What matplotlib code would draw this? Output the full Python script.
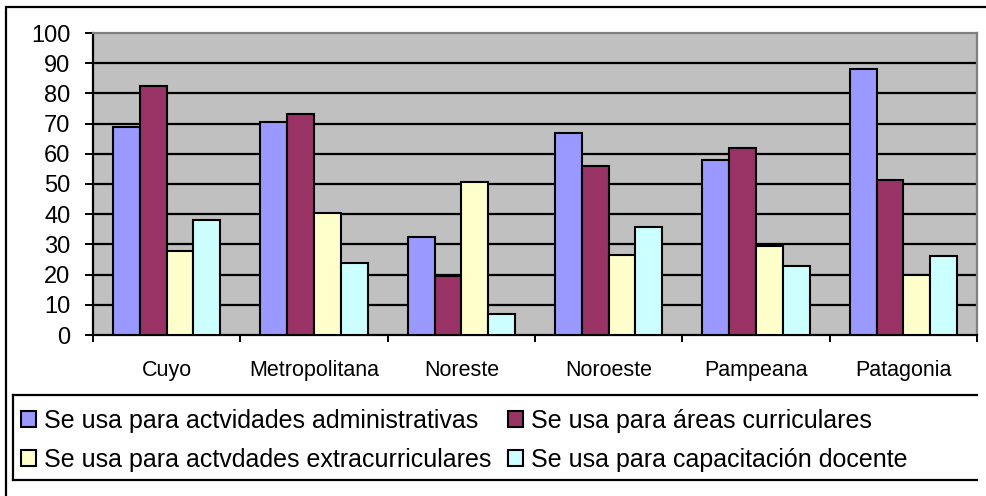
import matplotlib
matplotlib.use('Agg')
import matplotlib.pyplot as plt
from matplotlib.patches import Rectangle
from matplotlib.lines import Line2D
import numpy as np

plt.rcParams['font.family'] = ['Liberation Sans', 'DejaVu Sans']

# Data (percentages per region)
regions = ['Cuyo', 'Metropolitana', 'Noreste', 'Noroeste', 'Pampeana', 'Patagonia']
administrativas = [68.8, 70.5, 32.4, 66.8, 57.9, 88.1]
curriculares = [82.4, 73.3, 19.7, 55.9, 61.9, 51.3]
extracurriculares = [27.8, 40.4, 50.6, 26.4, 29.4, 19.8]
capacitacion = [38.0, 23.9, 7.0, 35.6, 22.7, 26.0]

labels = ['Se usa para actvidades administrativas',
          'Se usa para áreas curriculares',
          'Se usa para actvdades extracurriculares',
          'Se usa para capacitación docente']
colors = ['#9999FF', '#993366', '#FFFFCC', '#CCFFFF']
yticks = list(range(0, 101, 10))

W, H = 987, 496


def fx(x):
    return x / W


def fy(y):
    return 1 - y / H


fig = plt.figure(figsize=(W / 100, H / 100), dpi=100)
ax = fig.add_axes([fx(93), fy(335), fx(977 - 93), (335 - 33) / H])
ax.set_facecolor('#C0C0C0')

series = [administrativas, curriculares, extracurriculares, capacitacion]
x = np.arange(len(regions))
w = 1 / 5.5
handles = []
for i, (vals, c, lab) in enumerate(zip(series, colors, labels)):
    b = ax.bar(x + (i - 1.5) * w, vals, w, color=c, edgecolor='black',
               linewidth=1.5, zorder=3, label=lab)
    handles.append(b)

# horizontal gridlines
for v in yticks[1:-1]:
    ax.axhline(v, color='black', linewidth=1.6, zorder=1)

ax.set_xlim(-0.5, len(regions) - 0.5)
ax.set_ylim(0, 100)

ax.set_yticks(yticks)
ax.tick_params(axis='y', direction='out', length=5.8, width=1.4,
               pad=10.5, labelsize=17, colors='black')

ax.set_xticks(np.arange(-0.5, len(regions), 1))
ax.set_xticklabels([])
ax.set_xticks(x, minor=True)
ax.set_xticklabels(regions, minor=True)
ax.tick_params(axis='x', which='major', direction='out', length=5, width=1.4)
ax.tick_params(axis='x', which='minor', length=0, pad=18, labelsize=15.5)

for s in ['left', 'bottom']:
    ax.spines[s].set_color('black')
    ax.spines[s].set_linewidth(1.6)
for s in ['top', 'right']:
    ax.spines[s].set_color('#808080')
    ax.spines[s].set_linewidth(1.6)

# outer chart frame (right and bottom edges fall outside the picture)
fig.patches.append(Rectangle((fx(6), fy(500)), fx(990 - 6), (500 - 7) / H,
                             transform=fig.transFigure, fill=False,
                             edgecolor='black', linewidth=1.6))

# legend frame
lx0, lx1, ly0, ly1 = 13, 977, 395, 480
for xs, ys in [((lx0, lx1), (ly0, ly0)), ((lx0, lx1), (ly1, ly1)),
               ((lx0, lx0), (ly0, ly1))]:
    fig.lines.append(Line2D([fx(xs[0]), fx(xs[1])], [fy(ys[0]), fy(ys[1])],
                            transform=fig.transFigure, color='black',
                            linewidth=1.6))

# legend fills column-wise, so order entries to read row-wise as in the original
order = [0, 2, 1, 3]
fig.legend(handles=[handles[i] for i in order], labels=[labels[i] for i in order],
           ncol=2, loc='upper left',
           bbox_to_anchor=(fx(21), fy(409)), frameon=False, fontsize=18,
           borderpad=0, borderaxespad=0, handlelength=0.6, handleheight=0.6,
           handletextpad=0.32, columnspacing=0.65, labelspacing=0.6)

fig.savefig('out.png', dpi=100)
